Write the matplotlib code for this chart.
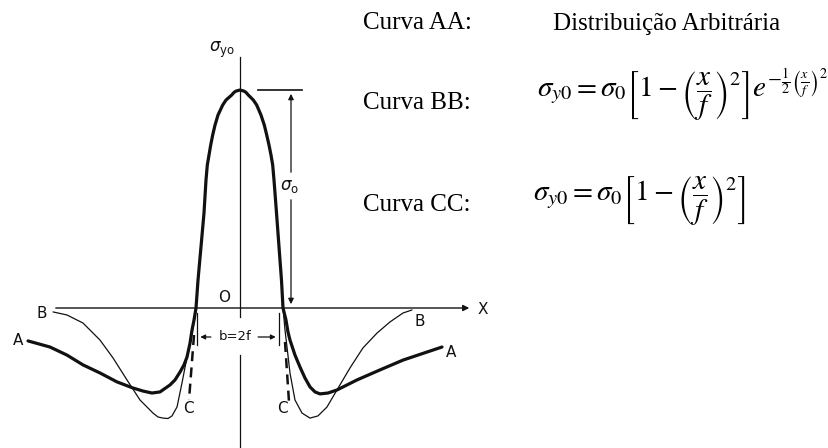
import numpy as np
import matplotlib.pyplot as plt

plt.rcParams['mathtext.fontset'] = 'stix'

# x in units of f, y in units of sigma_0
# central lobe, shared by curves A and B
lobe_x = [-1.035, -0.988, -0.918, -0.847, -0.800, -0.769, -0.729, -0.689, -0.642, -0.588,
          -0.518, -0.407, -0.329, -0.195, -0.141, -0.094, 0.0,
          0.094, 0.141, 0.195, 0.313, 0.393, 0.494, 0.572, 0.628, 0.682,
          0.729, 0.769, 0.800, 0.859, 0.918, 0.976, 1.012]
lobe_y = [0.0, 0.128, 0.280, 0.436, 0.587, 0.656, 0.702, 0.748, 0.794, 0.839,
          0.885, 0.931, 0.954, 0.977, 0.989, 0.995, 1.0,
          0.995, 0.989, 0.977, 0.954, 0.931, 0.885, 0.839, 0.794, 0.748,
          0.702, 0.656, 0.587, 0.436, 0.280, 0.128, 0.0]

# curve AA (arbitrary distribution), branches below the axis
a_left_x = [-1.082, -1.129, -1.176, -1.247, -1.318, -1.412, -1.529, -1.647, -1.882, -2.071,
            -2.282, -2.518, -2.894, -3.294, -3.694, -4.071, -4.471, -4.988]
a_left_y = [-0.055, -0.101, -0.161, -0.225, -0.261, -0.294, -0.330, -0.353, -0.385, -0.390,
            -0.381, -0.367, -0.339, -0.298, -0.261, -0.216, -0.179, -0.151]
a_right_x = [1.082, 1.129, 1.176, 1.294, 1.412, 1.529, 1.647, 1.765, 1.882, 2.071,
             2.282, 2.753, 3.294, 3.835, 4.400, 4.753]
a_right_y = [-0.055, -0.110, -0.147, -0.216, -0.271, -0.321, -0.362, -0.385, -0.394, -0.390,
             -0.376, -0.330, -0.284, -0.239, -0.202, -0.179]

# curve BB
b_left_x = [-1.059, -1.129, -1.247, -1.365, -1.482, -1.600, -1.694, -1.812, -1.929, -2.047,
            -2.353, -2.659, -2.988, -3.294, -3.694, -4.071, -4.400]
b_left_y = [-0.041, -0.115, -0.225, -0.344, -0.454, -0.495, -0.507, -0.505, -0.500, -0.482,
            -0.422, -0.330, -0.229, -0.147, -0.069, -0.032, -0.018]
b_right_x = [1.059, 1.106, 1.176, 1.294, 1.459, 1.647, 1.835, 2.047, 2.282, 2.588,
             2.894, 3.224, 3.529, 3.835, 4.047]
b_right_y = [-0.101, -0.179, -0.298, -0.422, -0.482, -0.505, -0.495, -0.454, -0.376, -0.275,
             -0.183, -0.115, -0.064, -0.023, -0.009]

# curve CC, dashed tails
c_left_x, c_left_y = [-1.082, -1.200], [-0.124, -0.422]
c_right_x, c_right_y = [1.059, 1.153], [-0.156, -0.431]

# pixel scale of the sketch: one f and one sigma_0
F_PX, S0_PX = 42.5, 218.0
X0_PX, Y0_PX = 240.0, 308.0
W, H = 829, 448

fig = plt.figure(figsize=(W / 100, H / 100), dpi=100)
ax = fig.add_axes([0, 0, 1, 1])
ax.set_xlim(-X0_PX / F_PX, (W - X0_PX) / F_PX)
ax.set_ylim(-(H - Y0_PX) / S0_PX, Y0_PX / S0_PX)
ax.axis('off')

ink = '#111111'

ax_x = a_left_x[::-1] + lobe_x + a_right_x
ax_y = a_left_y[::-1] + lobe_y + a_right_y
bx_x = b_left_x[::-1] + lobe_x + b_right_x
bx_y = b_left_y[::-1] + lobe_y + b_right_y

ax.plot(bx_x, bx_y, color=ink, lw=0.9, solid_capstyle='round', solid_joinstyle='round')
ax.plot(ax_x, ax_y, color=ink, lw=2.3, solid_capstyle='round', solid_joinstyle='round')
ax.plot(c_left_x, c_left_y, color=ink, lw=1.8, ls=(0, (4, 2.5)))
ax.plot(c_right_x, c_right_y, color=ink, lw=1.8, ls=(0, (4, 2.5)))

# axes of the sketch
ax.annotate('', xy=(5.46, 0), xytext=(-4.4, 0),
            arrowprops=dict(arrowstyle='-|>', color=ink, lw=1.0, mutation_scale=9))
ax.plot([0, 0], [1.151, -0.041], color=ink, lw=0.9)
ax.plot([0, 0], [-0.216, -0.642], color=ink, lw=0.9)

# sigma_0 dimension
ax.plot([0.424, 1.459], [1.0, 1.0], color=ink, lw=1.2)
ax.annotate('', xy=(1.2, 0.995), xytext=(1.2, 0.61),
            arrowprops=dict(arrowstyle='-|>', color=ink, lw=0.9, mutation_scale=8))
ax.annotate('', xy=(1.2, 0.005), xytext=(1.2, 0.509),
            arrowprops=dict(arrowstyle='-|>', color=ink, lw=0.9, mutation_scale=8))
ax.text(1.16, 0.56, r'$\sigma_\mathrm{o}$', ha='center', va='center', fontsize=12,
        color=ink, math_fontfamily='dejavusans')

# b = 2f dimension
ax.plot([-1.012, -1.012], [-0.023, -0.17], color=ink, lw=0.9)
ax.plot([0.918, 0.918], [-0.023, -0.17], color=ink, lw=0.9)
ax.annotate('', xy=(-1.0, -0.133), xytext=(-0.62, -0.133),
            arrowprops=dict(arrowstyle='-|>', color=ink, lw=0.9, mutation_scale=7))
ax.annotate('', xy=(0.906, -0.133), xytext=(0.36, -0.133),
            arrowprops=dict(arrowstyle='-|>', color=ink, lw=0.9, mutation_scale=7))
ax.text(-0.118, -0.133, 'b=2f', ha='center', va='center', fontsize=9.5, color=ink,
        family='DejaVu Sans', bbox=dict(fc='white', ec='none', pad=0.5))

lab = dict(ha='center', va='center', fontsize=11, color=ink, family='DejaVu Sans')
ax.text(-5.22, -0.151, 'A', **lab)
ax.text(4.96, -0.202, 'A', **lab)
ax.text(-4.66, -0.023, 'B', **lab)
ax.text(4.235, -0.064, 'B', **lab)
ax.text(-1.224, -0.463, 'C', **lab)
ax.text(0.988, -0.463, 'C', **lab)
ax.text(-0.376, 0.046, 'O', **lab)
ax.text(5.72, -0.005, 'X', **lab)
ax.text(-0.42, 1.183, r'$\sigma_\mathrm{yo}$', ha='center', va='center', fontsize=12,
        color=ink, math_fontfamily='dejavusans')

# legend text on the right
def fx(px):
    return px / W

def fy(py):
    return 1 - py / H

serif = dict(family='Liberation Serif', fontsize=18, color='black', va='center', ha='left')
fig.text(fx(363), fy(23), 'Curva AA:', **serif)
fig.text(fx(553), fy(24), 'Distribuição Arbitrária', **serif)
fig.text(fx(363), fy(103), 'Curva BB:', **serif)
fig.text(fx(363), fy(205), 'Curva CC:', **serif)

eq_bb = r'$\sigma_{y0} = \sigma_0\left[1 - \left(\dfrac{x}{f}\right)^2\right]e^{-\frac{1}{2}\left(\frac{x}{f}\right)^2}$'
eq_cc = r'$\sigma_{y0} = \sigma_0\left[1 - \left(\dfrac{x}{f}\right)^2\right]$'
fig.text(fx(537), fy(95), eq_bb, fontsize=21, va='center', ha='left')
fig.text(fx(533), fy(201), eq_cc, fontsize=21, va='center', ha='left')

fig.savefig('out.png', dpi=100)
